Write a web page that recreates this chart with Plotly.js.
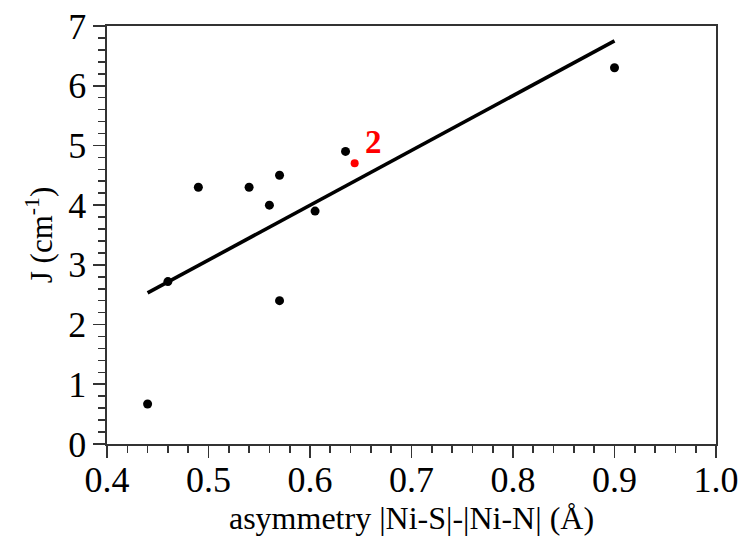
<!DOCTYPE html>
<html>
<head>
<meta charset="utf-8">
<script src="https://cdn.plot.ly/plotly-3.0.1.min.js"></script>
<style>html,body{margin:0;padding:0;background:#fff;}#chart{width:741px;height:543px;}</style>
</head>
<body>
<div id="chart"></div>
<script>
// data
const asymX = [0.44, 0.46, 0.49, 0.54, 0.56, 0.57, 0.57, 0.605, 0.635, 0.90];
const jY    = [0.67, 2.72, 4.30, 4.30, 4.00, 4.50, 2.40, 3.90, 4.90, 6.30];
const redX = [0.644];
const redY = [4.70];
const redLabel = "2";
const fitX = [0.44, 0.90];
const fitY = [2.53, 6.75];

const font = "'Liberation Serif'";

const traces = [
  {x: fitX, y: fitY, mode: "lines", line: {color: "#000", width: 3.6}, hoverinfo: "skip", showlegend: false},
  {x: asymX, y: jY, mode: "markers", marker: {color: "#000", size: 9}, showlegend: false},
  {x: redX, y: redY, mode: "markers", marker: {color: "#ff0000", size: 8}, showlegend: false}
];

const axisCommon = {
  showgrid: false, zeroline: false, showline: true, mirror: true,
  linecolor: "#333", linewidth: 1.6,
  ticks: "outside", ticklen: 12, tickwidth: 1.6, tickcolor: "#333",
  tickfont: {family: font, size: 36, color: "#000"}
};

const layout = {
  width: 741, height: 543,
  margin: {l: 107, r: 25, t: 26, b: 99},
  paper_bgcolor: "#fff", plot_bgcolor: "#fff",
  font: {family: font, color: "#000"},
  xaxis: Object.assign({}, axisCommon, {
    range: [0.4, 1.0], dtick: 0.1, tick0: 0.4, tickformat: ".1f",
    ticklabelstandoff: -9,
    minor: {dtick: 0.02, ticks: "outside", ticklen: 7, tickwidth: 1.6, tickcolor: "#333", showgrid: false},
    title: {text: "asymmetry |Ni-S|-|Ni-N| (Å)", font: {family: font, size: 32, color: "#000"}, standoff: 4}
  }),
  yaxis: Object.assign({}, axisCommon, {
    range: [0, 7], dtick: 1, tick0: 0,
    minor: {dtick: 0.2, ticks: "outside", ticklen: 7, tickwidth: 1.6, tickcolor: "#333", showgrid: false},
    title: {text: "J (cm<sup>-1</sup>)", font: {family: font, size: 31, color: "#000"}, standoff: 6}
  }),
  annotations: [{
    x: redX[0], y: redY[0], xref: "x", yref: "y", text: "<b>" + redLabel + "</b>",
    showarrow: false, xshift: 19, yshift: 21,
    font: {family: font, size: 33, color: "#ff0000"}
  }]
};

Plotly.newPlot("chart", traces, layout, {displayModeBar: false, staticPlot: true});
</script>
</body>
</html>
